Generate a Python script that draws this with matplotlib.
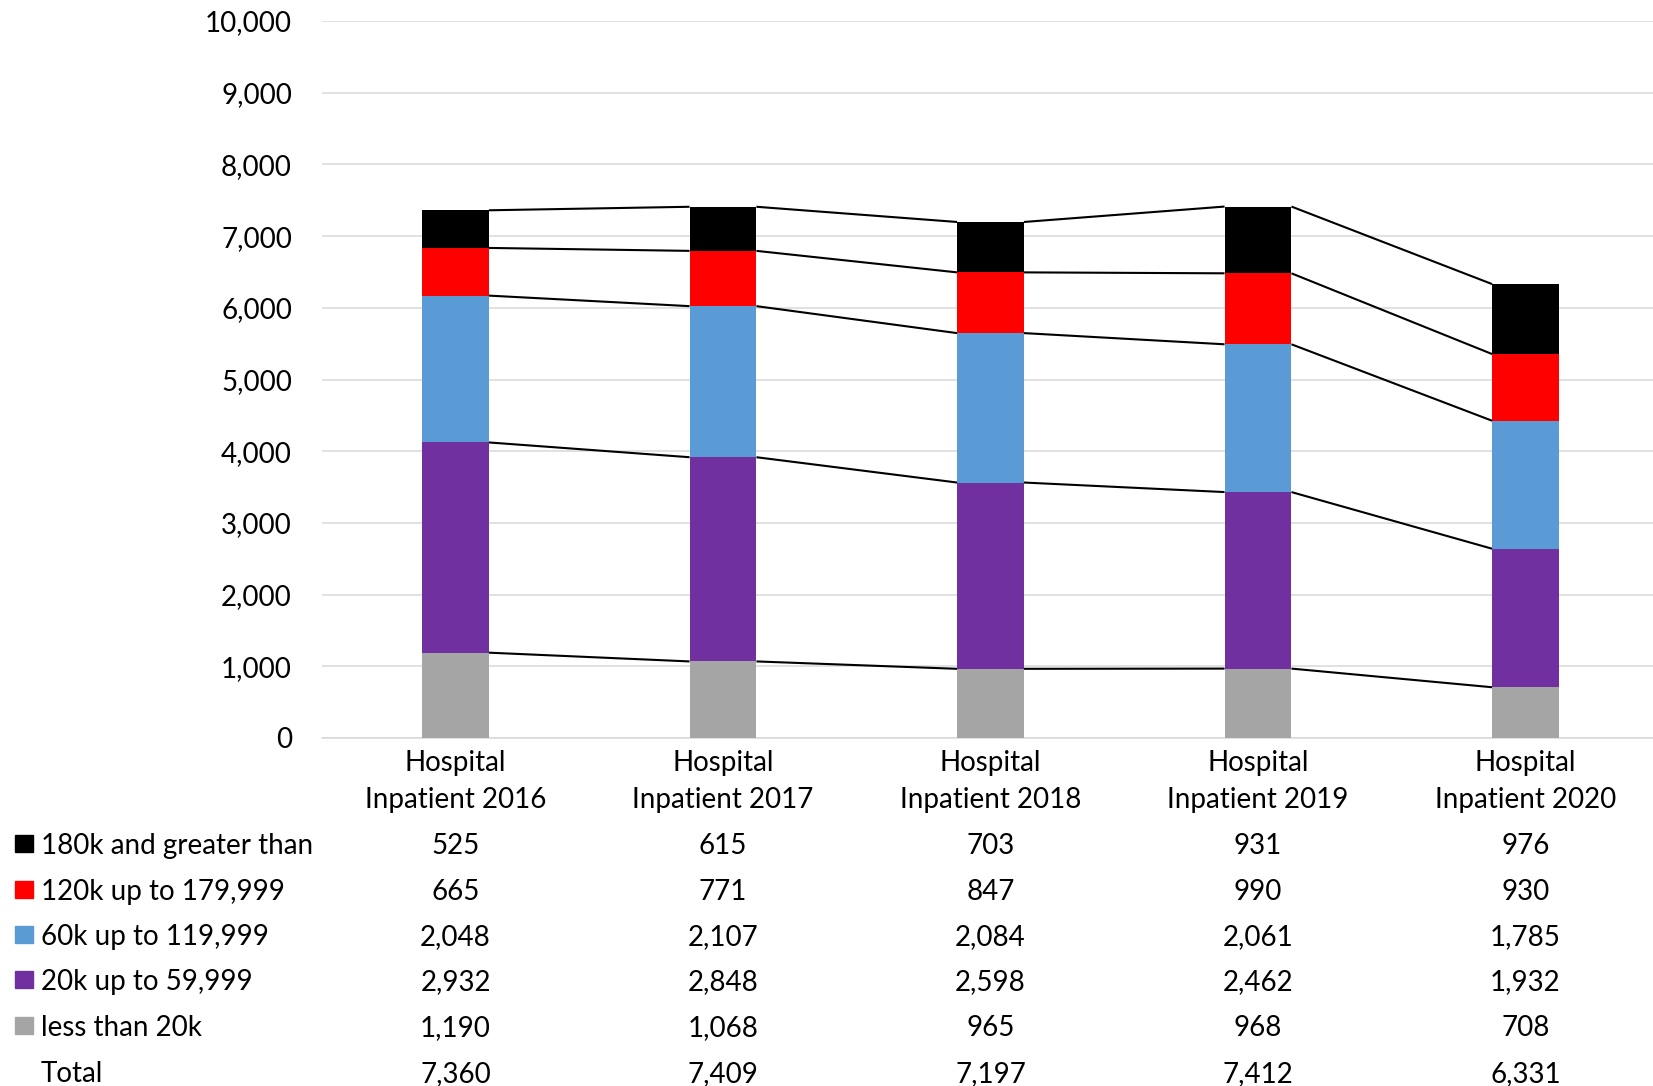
import numpy as np
from matplotlib import pyplot as plt
from matplotlib import transforms
from matplotlib.patches import Rectangle

plt.rcParams['font.family'] = ['Lato', 'DejaVu Sans']

# DATA
years = ['2016', '2017', '2018', '2019', '2020']
cat_labels = ['Hospital\nInpatient ' + y for y in years]
series_names = ['less than 20k', '20k up to 59,999', '60k up to 119,999',
                '120k up to 179,999', '180k and greater than']
less20 = [1190, 1068, 965, 968, 708]
k20_60 = [2932, 2848, 2598, 2462, 1932]
k60_120 = [2048, 2107, 2084, 2061, 1785]
k120_180 = [665, 771, 847, 990, 930]
k180 = [525, 615, 703, 931, 976]
totals = [7360, 7409, 7197, 7412, 6331]
colors = ['#a5a5a5', '#7030a0', '#5b9bd5', '#ff0000', '#000000']

W, H = 1653, 1086
FS = 20
fig = plt.figure(figsize=(W / 100, H / 100), dpi=100)
ax = fig.add_axes([321.75 / W, (H - 738) / H, 1337.5 / W, 717 / H])

series = [less20, k20_60, k60_120, k120_180, k180]
x = np.arange(len(years))
bw = 0.25
bottom = np.zeros(len(years))
tops = []
for vals, col in zip(series, colors):
    ax.bar(x, vals, bw, bottom=bottom, color=col, zorder=3)
    bottom = bottom + np.array(vals)
    tops.append(bottom.copy())

# series lines between bars
for t in tops:
    for i in range(len(years) - 1):
        ax.plot([x[i] + bw / 2, x[i + 1] - bw / 2], [t[i], t[i + 1]],
                color='black', lw=1.5, zorder=4, solid_capstyle='butt')

ax.set_xlim(-0.5, 4.5)
ax.set_ylim(0, 10000)
ax.set_yticks(np.arange(0, 10001, 1000))
ax.set_yticklabels(['{:,}'.format(v) for v in range(0, 10001, 1000)], fontsize=FS)
ax.grid(axis='y', color='#d9d9d9', lw=1.1, zorder=0)
ax.tick_params(axis='y', length=0, pad=21.5)
ax.tick_params(axis='x', length=0)
ax.set_xticks([])
for s in ['top', 'right', 'left']:
    ax.spines[s].set_visible(False)
ax.spines['bottom'].set_color('#d9d9d9')
ax.spines['bottom'].set_linewidth(1.1)

# data table underneath
tr = transforms.blended_transform_factory(ax.transData, fig.transFigure)
for i, lab in enumerate(cat_labels):
    l1, l2 = lab.split('\n')
    fig.text(x[i], (H - 763) / H, l1, transform=tr, ha='center', va='center', fontsize=FS)
    fig.text(x[i], (H - 800) / H, l2, transform=tr, ha='center', va='center', fontsize=FS)

rows = [(series_names[4], k180, colors[4]),
        (series_names[3], k120_180, colors[3]),
        (series_names[2], k60_120, colors[2]),
        (series_names[1], k20_60, colors[1]),
        (series_names[0], less20, colors[0]),
        ('Total', totals, None)]
row_y = [843, 889, 934, 979, 1025, 1071]
for (name, vals, col), yy in zip(rows, row_y):
    yf = (H - yy - 3) / H
    if col is not None:
        fig.patches.append(Rectangle((15 / W, (H - yy - 8.5) / H), 18 / W, 17 / H,
                                     transform=fig.transFigure, color=col))
    fig.text(41 / W, yf, name, ha='left', va='center', fontsize=FS)
    for i, v in enumerate(vals):
        fig.text(x[i], yf, '{:,}'.format(v), transform=tr, ha='center', va='center', fontsize=FS)

fig.savefig('out.png', dpi=100)
